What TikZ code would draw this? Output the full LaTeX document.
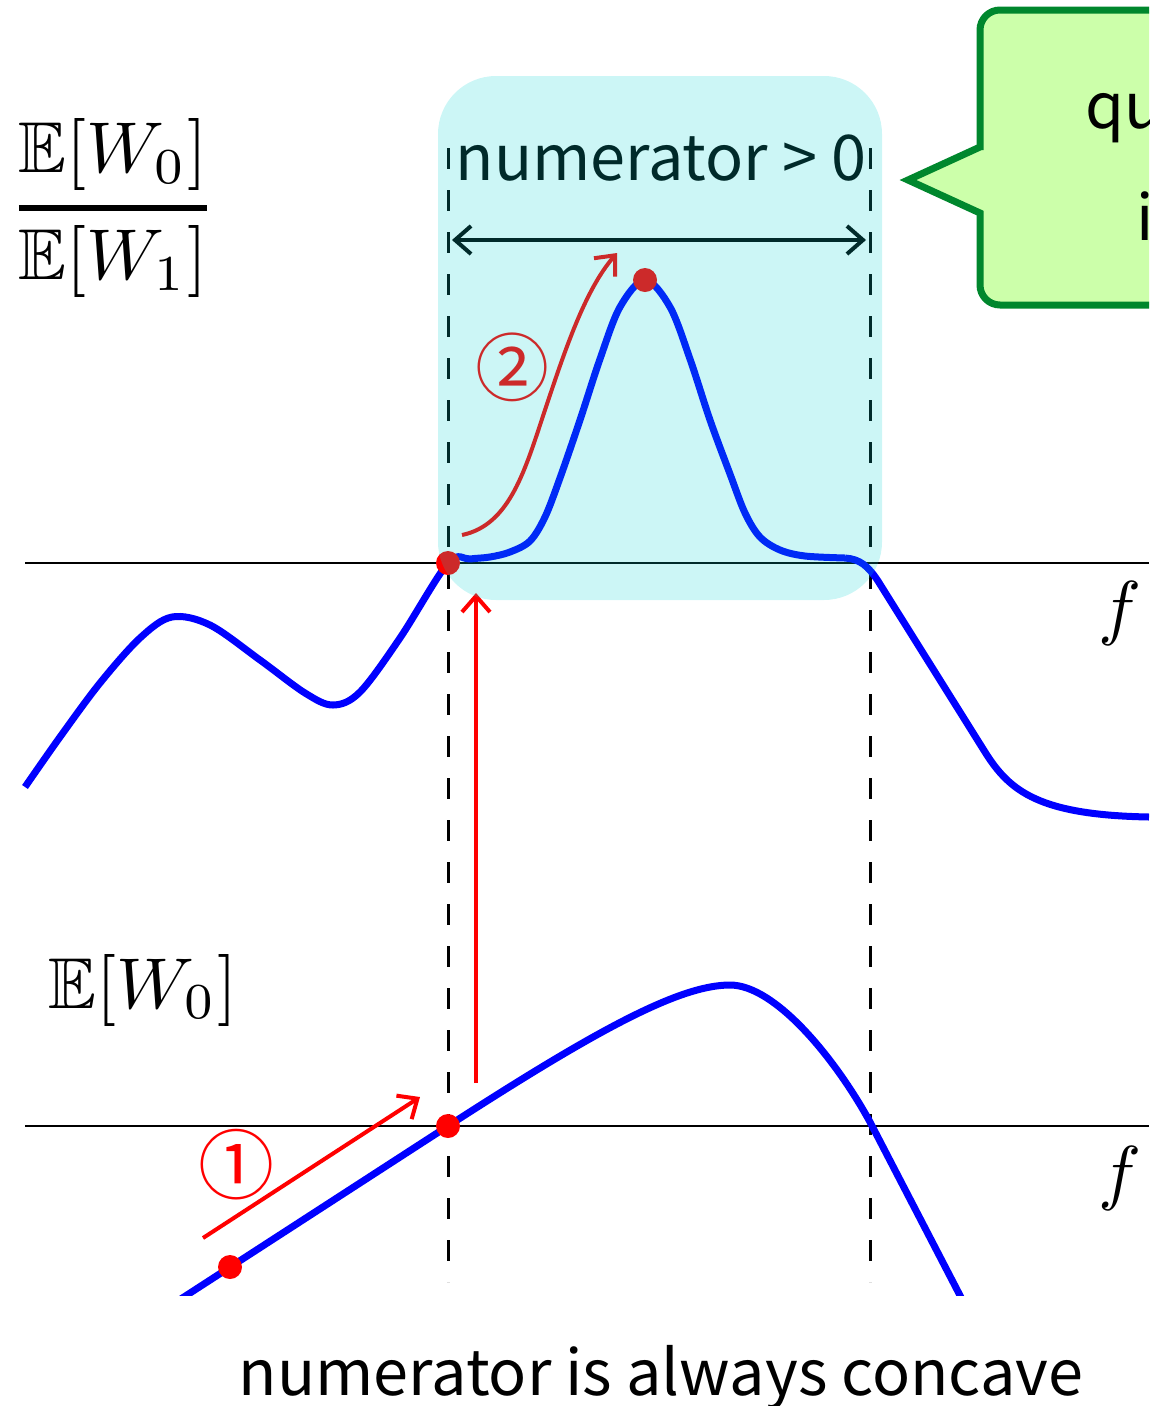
\documentclass[tikz,border=0pt]{standalone}
\usepackage{amsmath,amssymb}
\usepackage[no-math]{fontspec}
\setmainfont{Noto Sans CJK JP}
\newfontfamily\circfont{Noto Sans CJK JP}
\usetikzlibrary{arrows.meta}

\definecolor{calloutline}{RGB}{0,135,45}
\definecolor{calloutfill}{RGB}{204,255,170}
\definecolor{regioncol}{RGB}{0,210,210}

\begin{document}
\begin{tikzpicture}[
  x=1pt, y=-1pt,
  curve/.style={draw=blue, line width=7pt, line join=round},
  axisline/.style={line width=2pt},
  guide/.style={line width=3pt, dash pattern=on 21pt off 21pt},
  arr/.style={line width=4pt, -{Straight Barb[length=16pt,width=28pt]}},
  dot/.style={circle, fill=red, inner sep=0pt, minimum size=24pt},
  lbl/.style={inner sep=0pt},
  bigmath/.style={lbl, scale=7.2},
  bigtext/.style={lbl, font=\fontsize{63}{70}\selectfont}
]
  \useasboundingbox (0,0) rectangle (1149,1406);
  \clip (0,0) rectangle (1149,1406);

  % axes and guides
  \draw[axisline] (25,563) -- (1149,563);
  \draw[axisline] (25,1126) -- (1149,1126);
  \draw[guide] (448,148) -- (448,1282);
  \draw[guide] (870,148) -- (870,1282);

  % ratio curve
  \draw[curve] plot[smooth, tension=0.55] coordinates {(25,787) (60,737) (100,683) (140,638) (172,617) (210,625) (260,660) (305,693) (333,705) (360,692) (400,638) (448,563) (470,559) (490,557) (510,552) (530,541) (545,517) (560,478) (580,420) (600,359) (620,307) (645,280) (670,307) (690,359) (710,420) (730,474) (745,513) (760,537) (780,550) (805,556) (845,558)};
  \draw[curve] (845,558) .. controls (860,559) and (868,566) .. (878,581)
    -- (985,752) .. controls (1010,792) and (1040,815) .. (1149,817);

  % numerator curve
  \begin{scope}
    \clip (0,0) rectangle (1149,1295);
    \draw[curve] (170,1306) -- (448,1126) .. controls (598,1029) and (680,985) .. (730,985)
      .. controls (775,985) and (835,1058) .. (870,1122) -- (966,1307);
  \end{scope}

  % points
  \node[dot] (start) at (230,1267) {};
  \node[dot] (cross) at (448,1126) {};
  \node[dot] (edge) at (448,563) {};
  \node[dot] (peak) at (645,280) {};

  % steps
  \coordinate (s1a) at (203,1238);
  \coordinate (s1b) at (420,1097);
  \draw[arr, red] (s1a) -- (s1b);
  \node[lbl, text=red, font=\circfont\fontsize{76}{76}\selectfont] (n1) at (236,1165) {①};

  \coordinate (upa) at (476,1083);
  \coordinate (upb) at (476,593);
  \draw[arr, red] (upa) -- (upb);

  \coordinate (s2a) at (462,535);
  \coordinate (s2b) at (617,253);
  \draw[arr, red] (s2a) .. controls (510,525) and (525,470) .. (545,410)
    .. controls (565,350) and (585,290) .. (s2b);
  \node[lbl, text=red, font=\circfont\fontsize{74}{74}\selectfont] (n2) at (512,367) {②};

  % positive region
  \node[bigtext, anchor=base] (pos) at (661,180) {numerator > 0};
  \coordinate (wl) at (452,240);
  \coordinate (wr) at (866,240);
  \draw[arr, {Straight Barb[length=16pt,width=28pt]}-{Straight Barb[length=16pt,width=28pt]}] (wl) -- (wr);
  \fill[regioncol, fill opacity=0.2, rounded corners=58pt] (438,76) rectangle (882,600);

  % callout
  \draw[line width=7pt, draw=calloutline, fill=calloutfill, line join=miter]
    (980,147) -- (908,180) -- (980,213) -- (980,230) [rounded corners=20pt]
    -- (980,305) -- (1220,305) -- (1220,10) -- (980,10) -- (980,130)
    [sharp corners] -- cycle;
  \node[bigtext, anchor=base west] (qline) at (1085,128) {qu};
  \node[bigtext, anchor=base west] (iline) at (1136,240) {i};

  % labels
  \node[bigmath] (ratio) at (113,208) {$\genfrac{}{}{0.7pt}{0}{\mathbb{E}[W_0]}{\mathbb{E}[W_1]}$};
  \node[bigmath] (numer) at (143,990) {$\mathbb{E}[W_0]$};
  \node[bigmath] (fa) at (1120,613) {$f$};
  \node[bigmath] (fb) at (1120,1178) {$f$};
  \node[bigtext, anchor=base] (concave) at (661,1395) {numerator is always concave};
\end{tikzpicture}
\end{document}
